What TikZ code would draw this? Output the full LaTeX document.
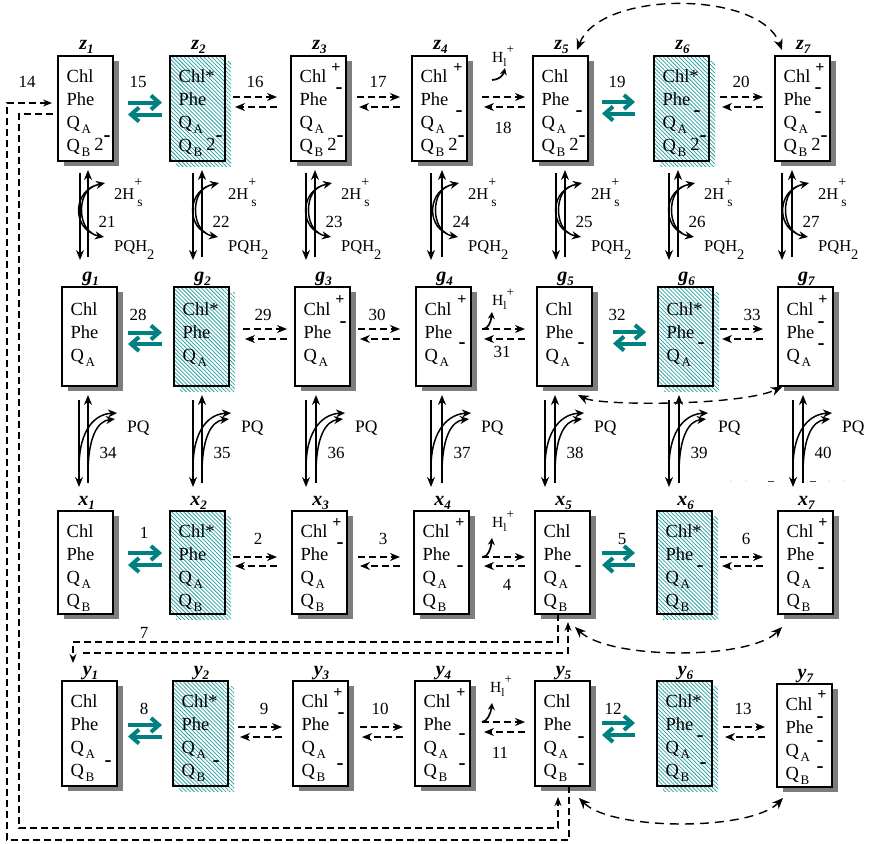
\documentclass[tikz,border=0pt]{standalone}
\usepackage{fontspec}
\setmainfont{Liberation Serif}
\usetikzlibrary{arrows.meta,patterns.meta,calc}
\definecolor{tealc}{RGB}{0,128,128}
\definecolor{hatchc}{RGB}{40,160,160}
\definecolor{shgray}{RGB}{125,125,125}
\newcommand\lsub[1]{\kern1.5pt\raisebox{-5pt}{\fontsize{13}{13}\selectfont #1}}
\tikzset{
  sbox/.style={draw, line width=1.6pt, minimum width=55pt, inner sep=0pt, outer sep=0pt},
  hatchfill/.style={pattern={Lines[angle=-45,distance=2.8pt,line width=0.75pt]}, pattern color=hatchc},
  txt/.style={font=\fontsize{18.5}{20}\selectfont, inner sep=0pt},
  sgn/.style={font=\fontsize{16}{16}\selectfont\bfseries, inner sep=0pt},
  mns/.style={font=\fontsize{21}{21}\selectfont\bfseries, inner sep=0pt},
  lab/.style={font=\fontsize{20}{20}\selectfont, inner sep=0pt},
  num/.style={font=\fontsize{17}{17}\selectfont, inner sep=0pt},
  vlab/.style={font=\fontsize{16.5}{17}\selectfont, inner sep=0pt},
  hlab/.style={font=\fontsize{15.5}{15.5}\selectfont, inner sep=0pt},
  darr/.style={line width=1.5pt, dash pattern=on 7pt off 4pt, -{Stealth[length=10pt,width=8pt]}},
  tarr/.style={draw=tealc, line width=4pt, -{Straight Barb[length=8pt,width=14pt]}},
  varr/.style={line width=1.6pt, -{Stealth[length=10pt,width=8pt]}},
  carr/.style={line width=1.5pt, -{Stealth[length=9pt,width=8pt]}},
  hook/.style={line width=1.7pt, -{Stealth[length=7pt,width=7pt]}},
  loopd/.style={line width=1.2pt, dash pattern=on 7pt off 4pt},
  arcd/.style={line width=1.4pt, dash pattern=on 9pt off 6pt},
  ltip/.style={-{Stealth[length=9pt,width=7pt]}},
  bitip/.style={{Stealth[length=11pt,width=9pt]}-{Stealth[length=11pt,width=9pt]}},
}
% box: name, left, top, height, hatched, letter, index, lines, first baseline
\newcommand\SB[9]{%
  \ifnum#5=1
    \path[hatchfill] (#2+6,#3+5) rectangle (#2+61,#3+#4+5);
    \node[sbox, preaction={fill=white}, hatchfill, minimum height=#4pt, anchor=north west] (#1) at (#2,#3) {};
  \else
    \fill[shgray] (#2+6,#3+5) rectangle (#2+61,#3+#4+5);
    \node[sbox, fill=white, minimum height=#4pt, anchor=north west] (#1) at (#2,#3) {};
  \fi
  \node[lab, anchor=base] (#1-lab) at ($(#1.north)+(1,-6)$) {\textbf{\textit{#6}}\raisebox{-4pt}{\fontsize{13}{13}\selectfont\textbf{\textit{#7}}}};
  \node[txt, anchor=base west] (#1-a) at (#2+8.5,#3+#9) {Chl\ifnum#5=1 *\fi};
  \node[txt, anchor=base west] (#1-b) at (#2+8.5,#3+#9+23) {Phe};
  \node[txt, anchor=base west] (#1-c) at (#2+8.5,#3+#9+46) {Q\lsub{A}};
  \ifnum#8=4 \node[txt, anchor=base west] (#1-d) at (#2+8.5,#3+#9+69) {Q\lsub{B}};\fi
}
\newcommand\Plus[3]{\node[sgn] (#1-p#3) at ($(#1.north east)+(#2,#3)$) {+};}
\newcommand\Minus[3]{\node[mns, anchor=base] (#1-m#3) at ($(#1.north east)+(#2,#3+5)$) {-};}
\newcommand\Two[1]{\node[txt, anchor=base] (#1-two) at ($(#1.north east)+(-14,94)$) {2};\Minus{#1}{-6}{80}}
% upper vertical group: top box, bottom box, L, R, number
\newcommand\VU[5]{%
  \coordinate (#1L) at (#3,0); \coordinate (#1R) at (#4,0);
  \draw[varr, shorten <=12pt, shorten >=27pt] (#1.south -| #1L) -- (#2.north -| #1L);
  \draw[varr, shorten <=30pt, shorten >=9pt] (#2.north -| #1R) -- (#1.south -| #1R);
  \draw[carr] ($(#1R)+(4,233)$) .. controls ($(#1R)+(-15,225)$) and ($(#1R)+(-15,190)$) .. ($(#1R)+(17,183)$);
  \draw[carr] ($(#1R)+(4,187)$) .. controls ($(#1R)+(-11,195)$) and ($(#1R)+(-11,232)$) .. ($(#1R)+(16,237)$);
  \node[vlab, anchor=base west] (#1-h) at ($(#1R)+(26,199)$) {2H\rlap{\kern3pt\raisebox{-7pt}{\fontsize{13.5}{13.5}\selectfont s}}\raisebox{13pt}{\fontsize{14}{14}\selectfont +}};
  \node[num] (#1-n) at ($(#1R)+(19,222)$) {#5};
  \node[vlab, anchor=base west] (#1-q) at ($(#1R)+(26,251)$) {PQH\raisebox{-8pt}{\fontsize{14.5}{14.5}\selectfont 2}};
}
% lower vertical group
\newcommand\VL[5]{%
  \coordinate (#1L) at (#3,0); \coordinate (#1R) at (#4,0);
  \draw[varr, shorten <=14pt, shorten >=24pt] (#1.south -| #1L) -- (#2.north -| #1L);
  \draw[varr, shorten <=28pt, shorten >=9pt] (#2.north -| #1R) -- (#1.south -| #1R);
  \draw[carr] ($(#1L)+(0,468)$) .. controls ($(#1L)+(0,428)$) and ($(#1R)+(8,414)$) .. ($(#1R)+(29,413)$);
  \draw[carr] ($(#1R)+(0,474)$) .. controls ($(#1R)+(0,436)$) and ($(#1R)+(10,421)$) .. ($(#1R)+(27,419)$);
  \node[vlab, anchor=base west, font=\fontsize{17.5}{17.5}\selectfont] (#1-q) at ($(#1R)+(39,432)$) {PQ};
  \node[num] (#1-n) at ($(#1R)+(20,453)$) {#5};
}
\newcommand\DP[4]{\draw[darr] (#1,#3) -- (#2,#3); \draw[darr] (#2,#4) -- (#1+2,#4);}
\newcommand\TP[4]{\draw[tarr] (#1,#3) -- (#2,#3); \draw[tarr] (#2,#4) -- (#1,#4);}
\newcommand\HL[3]{\node[hlab, anchor=base west] (#1) at (#2,#3) {H\raisebox{-4pt}{\fontsize{11.5}{11.5}\selectfont l}\raisebox{9pt}{\fontsize{13}{13}\selectfont +}};}
\begin{document}
\begin{tikzpicture}[x=1pt,y=-1pt]
\useasboundingbox (0,0) rectangle (869,843);
\fill[white] (0,0) rectangle (869,843);

% ---------- boxes ----------
\SB{z1}{58}{56}{105}{0}{z}{1}{4}{26}
\SB{z2}{170}{56}{105}{1}{z}{2}{4}{26}
\SB{z3}{291}{56}{105}{0}{z}{3}{4}{26}
\SB{z4}{412}{56}{105}{0}{z}{4}{4}{26}
\SB{z5}{533}{56}{105}{0}{z}{5}{4}{26}
\SB{z6}{654}{56}{105}{1}{z}{6}{4}{26}
\SB{z7}{775}{56}{105}{0}{z}{7}{4}{26}

\SB{g1}{62}{287}{99}{0}{g}{1}{3}{28}
\SB{g2}{174}{287}{99}{1}{g}{2}{3}{28}
\SB{g3}{295}{287}{99}{0}{g}{3}{3}{28}
\SB{g4}{416}{287}{99}{0}{g}{4}{3}{28}
\SB{g5}{537}{287}{99}{0}{g}{5}{3}{28}
\SB{g6}{658}{287}{99}{1}{g}{6}{3}{28}
\SB{g7}{778}{287}{99}{0}{g}{7}{3}{28}

\SB{x1}{58}{511}{103}{0}{x}{1}{4}{26}
\SB{x2}{170}{511}{103}{1}{x}{2}{4}{26}
\SB{x3}{292}{511}{103}{0}{x}{3}{4}{26}
\SB{x4}{414}{511}{103}{0}{x}{4}{4}{26}
\SB{x5}{535}{511}{103}{0}{x}{5}{4}{26}
\SB{x6}{657}{511}{103}{1}{x}{6}{4}{26}
\SB{x7}{778}{511}{103}{0}{x}{7}{4}{26}

\SB{y1}{62}{681}{105}{0}{y}{1}{4}{26}
\SB{y2}{173}{681}{105}{1}{y}{2}{4}{26}
\SB{y3}{293}{681}{105}{0}{y}{3}{4}{26}
\SB{y4}{415}{681}{105}{0}{y}{4}{4}{26}
\SB{y5}{535}{681}{105}{0}{y}{5}{4}{26}
\SB{y6}{657}{681}{105}{1}{y}{6}{4}{26}
\SB{y7}{777}{684}{103}{0}{y}{7}{4}{26}

% ---------- charges ----------
\Two{z1}\Two{z2}\Two{z3}\Two{z4}\Two{z5}\Two{z6}\Two{z7}
\Plus{z3}{-10}{12}\Minus{z3}{-7}{32}
\Plus{z4}{-9}{12}\Minus{z4}{-8}{55}
\Minus{z5}{-9}{55}
\Minus{z6}{-12}{55}
\Plus{z7}{-10}{12}\Minus{z7}{-12}{32}\Minus{z7}{-12}{56}

\Plus{g3}{-10}{13}\Minus{g3}{-7}{35}
\Plus{g4}{-9}{13}\Minus{g4}{-9}{56}
\Minus{g5}{-11}{56}
\Minus{g6}{-12}{56}
\Plus{g7}{-10}{13}\Minus{g7}{-12}{35}\Minus{g7}{-12}{57}

\Plus{x3}{-10}{12}\Minus{x3}{-7}{32}
\Plus{x4}{-9}{12}\Minus{x4}{-9}{55}
\Minus{x5}{-12}{55}
\Minus{x6}{-12}{55}
\Plus{x7}{-10}{12}\Minus{x7}{-12}{32}\Minus{x7}{-12}{57}

\Minus{y1}{-9}{80}
\Minus{y2}{-12}{80}
\Plus{y3}{-10}{12}\Minus{y3}{-7}{32}\Minus{y3}{-8}{83}
\Plus{y4}{-9}{12}\Minus{y4}{-8}{53}\Minus{y4}{-8}{83}
\Minus{y5}{-9}{56}\Minus{y5}{-9}{83}
\Minus{y6}{-12}{55}\Minus{y6}{-9}{82}
\Plus{y7}{-10}{11}\Minus{y7}{-12}{33}\Minus{y7}{-12}{57}\Minus{y7}{-12}{83}

% ---------- horizontal reactions ----------
\TP{128}{162}{102.5}{114.5}
\DP{233}{277}{97}{107}
\DP{357}{400}{97}{107}
\DP{482}{525}{97}{107}
\TP{602}{635}{102}{113.5}
\DP{720}{763}{97}{107}
\node[num] (n15) at (138,82) {15};
\node[num] (n16) at (255,82) {16};
\node[num] (n17) at (378,82) {17};
\node[num] (n18) at (503,128) {18};
\node[num] (n19) at (617,82) {19};
\node[num] (n20) at (741,82) {20};
\HL{hz}{492}{63}
\draw[hook] (492,80) .. controls (498,80) and (503,76) .. (505,68);

\TP{128}{162}{332.5}{344}
\DP{243}{287}{329}{339}
\DP{358}{400}{329}{339}
\DP{482}{525}{329}{339}
\TP{613}{646}{332}{343.5}
\DP{720}{763}{329}{339}
\node[num] (n28) at (138,315) {28};
\node[num] (n29) at (263,315) {29};
\node[num] (n30) at (377,315) {30};
\node[num] (n31) at (502,352) {31};
\node[num] (n32) at (617,315) {32};
\node[num] (n33) at (752,315) {33};
\HL{hg}{492}{305}
\draw[hook] (483,329) .. controls (488,329) and (491,322) .. (492,312);

\TP{128}{162}{553}{565}
\DP{233}{277}{557}{566}
\DP{358}{400}{557}{566}
\DP{482}{525}{557}{566}
\TP{602}{635}{553}{565}
\DP{720}{763}{557}{566}
\node[num] (n1) at (144,533) {1};
\node[num] (n2) at (258,539) {2};
\node[num] (n3) at (383,539) {3};
\node[num] (n4) at (507,585) {4};
\node[num] (n5) at (622,539) {5};
\node[num] (n6) at (746,539) {6};
\HL{hx}{492}{527}
\draw[hook] (483,557) .. controls (488,557) and (491,548) .. (492,538);

\TP{128}{162}{725}{736.5}
\DP{238}{282}{727}{737}
\DP{360}{403}{727}{737}
\DP{482}{525}{722}{732}
\TP{602}{635}{723}{735}
\DP{723}{765}{727}{737}
\node[num] (n8) at (144,709) {8};
\node[num] (n9) at (264,709) {9};
\node[num] (n10) at (380,709) {10};
\node[num] (n11) at (500,753) {11};
\node[num] (n12) at (613,709) {12};
\node[num] (n13) at (743,709) {13};
\HL{hy}{490}{692}
\draw[hook] (482,722) .. controls (487,722) and (491,713) .. (492,703);

% ---------- vertical reactions ----------
\VU{z1}{g1}{80}{88}{21}
\VU{z2}{g2}{193}{202}{22}
\VU{z3}{g3}{306}{315}{23}
\VU{z4}{g4}{431}{442}{24}
\VU{z5}{g5}{556}{565}{25}
\VU{z6}{g6}{669}{678}{26}
\VU{z7}{g7}{782}{792}{27}

\VL{g1}{x1}{79}{88}{34}
\VL{g2}{x2}{193}{202}{35}
\VL{g3}{x3}{306}{316}{36}
\VL{g4}{x4}{431}{442}{37}
\VL{g5}{x5}{545}{555}{38}
\VL{g6}{x6}{669}{679}{39}
\VL{g7}{x7}{793}{803}{40}

% ---------- dashed arcs ----------
\draw[arcd,bitip] ([xshift=-11pt,yshift=6pt]z5.north east) .. controls (600,-10) and (760,-10) .. ([xshift=7pt,yshift=6pt]z7.north west);
\draw[arcd,bitip] ([xshift=-14pt,yshift=-9pt]g5.south east) .. controls (600,406) and (740,406) .. ([xshift=4pt,yshift=-1pt]g7.south west);
\draw[arcd,bitip] ([xshift=-15pt,yshift=-13pt]x5.south east) .. controls (610,660) and (750,660) .. ([xshift=4pt,yshift=-13pt]x7.south west);
\draw[arcd,bitip] ([xshift=-11pt,yshift=-12pt]y5.south east) .. controls (612,831) and (751,831) .. ([xshift=6pt,yshift=-11pt]y7.south west);

% ---------- long dashed loops ----------
\coordinate (p7a) at (73,663);
\coordinate (p7b) at (83,653);
\draw[loopd, ltip] ([xshift=-4.5pt]x5.south) |- (73,642) -- (p7a);
\draw[loopd, ltip, shorten >=8pt] (p7b) -| ([xshift=5.5pt]x5.south);
\node[num] (n7) at (144,633) {7};

\draw[loopd, ltip] ([xshift=6.5pt]y5.south) |- (7,840) |- ([xshift=-6pt,yshift=5.5pt]z1.west);
\draw[loopd, ltip] ([xshift=-5pt,yshift=-5.5pt]z1.west) -| (19,828) -| ([xshift=-4.5pt,yshift=-11pt]y5.south);
\node[num] (n14) at (27,82) {14};

% stray marks
\draw[black!75, line width=1pt, dash pattern=on 6pt off 36pt] (768,481) -- (822,481);
\foreach \q in {731,746,829,844} \fill[gray!50] (\q,481) circle (0.7);
\end{tikzpicture}
\end{document}
